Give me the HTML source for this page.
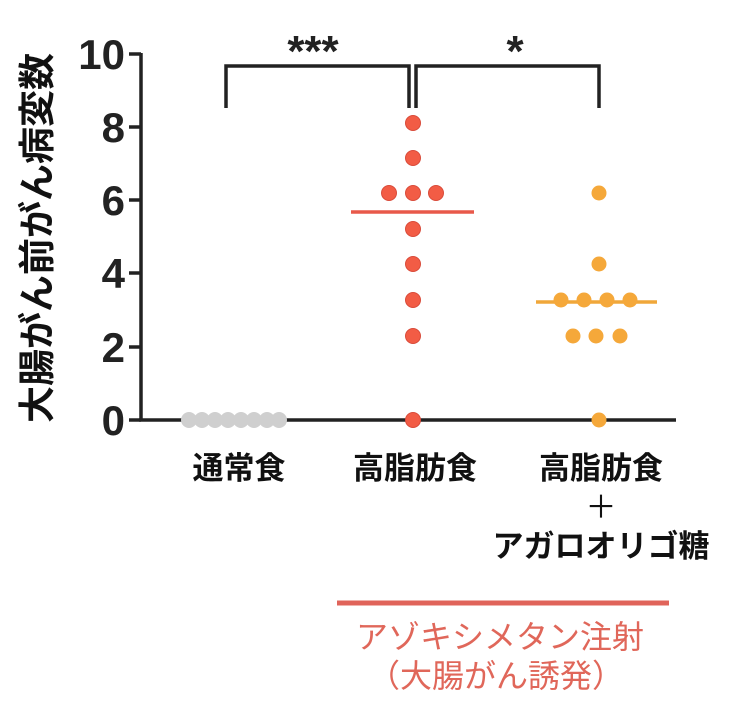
<!DOCTYPE html>
<html><head><meta charset="utf-8"><style>
body{margin:0;background:#fff;}
svg text{font-family:"Liberation Sans","Noto Sans CJK JP",sans-serif;}
</style></head><body>
<svg width="739" height="717" viewBox="0 0 739 717" xmlns="http://www.w3.org/2000/svg">
<g stroke="#222" stroke-width="3.5" fill="none">
<line x1="141" y1="53" x2="141" y2="421"/>
<line x1="139" y1="420" x2="676" y2="420"/>
<line x1="129" y1="54" x2="141" y2="54"/>
<line x1="129" y1="127" x2="141" y2="127"/>
<line x1="129" y1="200" x2="141" y2="200"/>
<line x1="129" y1="273" x2="141" y2="273"/>
<line x1="129" y1="347" x2="141" y2="347"/>
<line x1="129" y1="420" x2="141" y2="420"/>
<polyline points="226,108 226,66 409,66 409,108"/>
<polyline points="416,108 416,66 599,66 599,108"/>
</g>
<g font-weight="bold" font-size="42" fill="#222" text-anchor="end">
<text x="125" y="69">10</text><text x="125" y="142">8</text><text x="125" y="215">6</text>
<text x="125" y="288">4</text><text x="125" y="362">2</text><text x="125" y="435">0</text>
</g>
<text x="313" y="66" font-size="44" font-weight="bold" text-anchor="middle" fill="#222">***</text>
<text x="515" y="66" font-size="44" font-weight="bold" text-anchor="middle" fill="#222">*</text>
<text transform="translate(50,238) rotate(-90)" font-size="37" font-weight="bold" text-anchor="middle" fill="#111">大腸がん前がん病変数</text>
<g fill="#cfcfcf">
<circle cx="189" cy="420" r="8"/><circle cx="202" cy="420" r="8"/><circle cx="215" cy="420" r="8"/><circle cx="228" cy="420" r="8"/><circle cx="241" cy="420" r="8"/><circle cx="254" cy="420" r="8"/><circle cx="267" cy="420" r="8"/><circle cx="279" cy="420" r="8"/>
</g>
<line x1="351" y1="212" x2="474" y2="212" stroke="#e8594a" stroke-width="3.5"/>
<g fill="#f25c45" stroke="#d94b3a" stroke-width="1">
<circle cx="413" cy="123" r="7.5"/><circle cx="413" cy="158" r="7.5"/>
<circle cx="389" cy="193" r="7.5"/><circle cx="413" cy="193" r="7.5"/><circle cx="436" cy="193" r="7.5"/>
<circle cx="413" cy="229" r="7.5"/><circle cx="413" cy="264" r="7.5"/><circle cx="413" cy="300" r="7.5"/><circle cx="413" cy="336" r="7.5"/><circle cx="413" cy="420" r="7.5"/>
</g>
<line x1="536" y1="302" x2="657" y2="302" stroke="#f0a73a" stroke-width="3.5"/>
<g fill="#f5a83a">
<circle cx="599" cy="193" r="7.5"/><circle cx="599" cy="264" r="7.5"/>
<circle cx="561" cy="300" r="7.5"/><circle cx="584" cy="300" r="7.5"/><circle cx="607" cy="300" r="7.5"/><circle cx="630" cy="300" r="7.5"/>
<circle cx="573" cy="336" r="7.5"/><circle cx="596" cy="336" r="7.5"/><circle cx="620" cy="336" r="7.5"/>
<circle cx="599" cy="420" r="7.5"/>
</g>
<g font-size="31" font-weight="bold" fill="#111" text-anchor="middle">
<text x="239" y="479">通常食</text>
<text x="415" y="479">高脂肪食</text>
<text x="601" y="479">高脂肪食</text>
<text x="601" y="518" font-weight="normal">＋</text>
<text x="601" y="557">アガロオリゴ糖</text>
</g>
<line x1="337" y1="603" x2="669" y2="603" stroke="#e0645a" stroke-width="5"/>
<g font-size="32" fill="#e0675a" text-anchor="middle">
<text x="500" y="648">アゾキシメタン注射</text>
<text x="496" y="687">（大腸がん誘発）</text>
</g>
</svg>
</body></html>
